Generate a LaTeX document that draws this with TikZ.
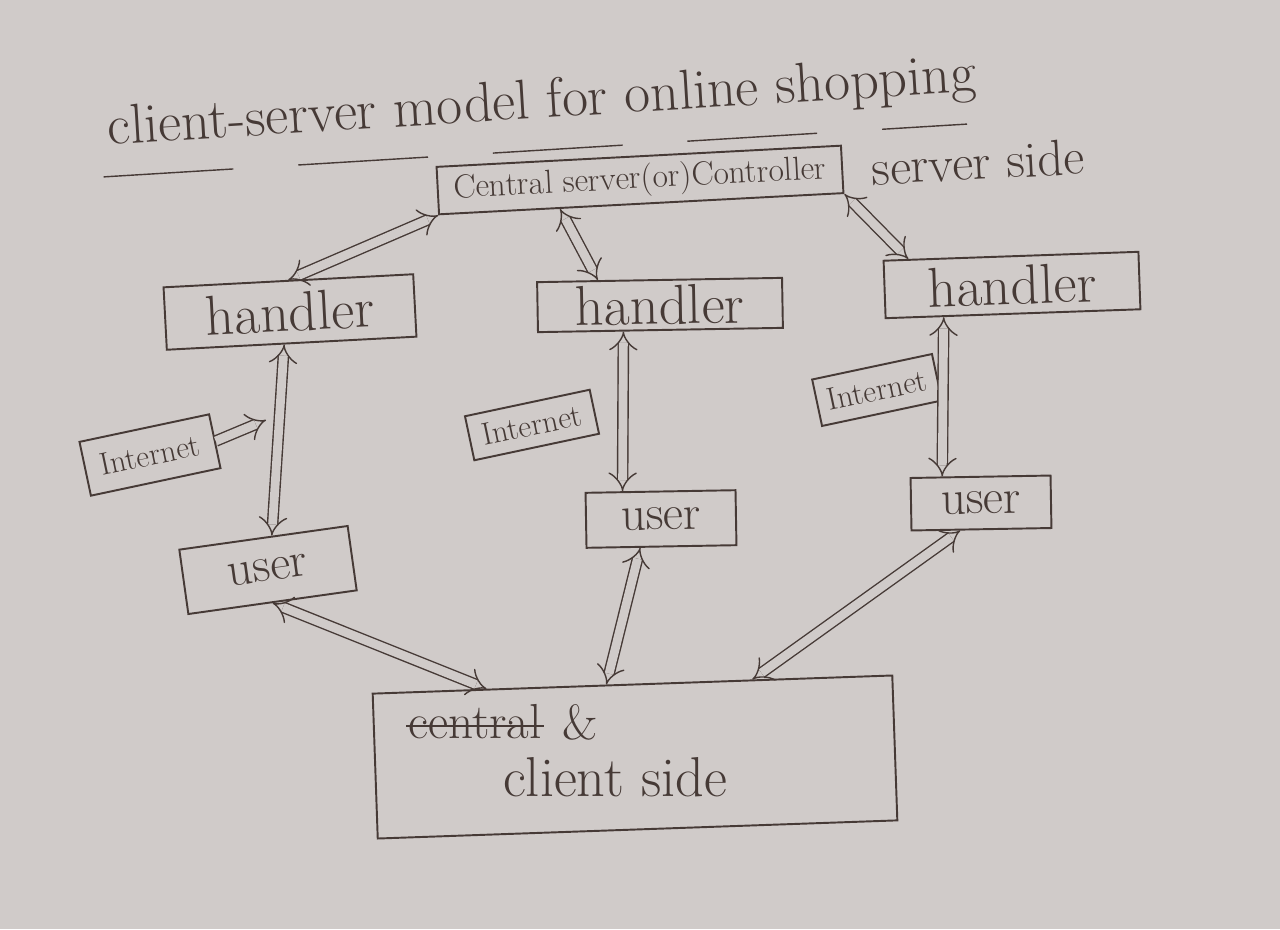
\documentclass[tikz,border=0pt]{standalone}
\usepackage{tikz}
\usetikzlibrary{arrows.meta}
\usetikzlibrary{calc}
\usetikzlibrary{positioning}
\definecolor{paper}{RGB}{208,203,201}
\definecolor{ink}{RGB}{70,58,54}

\begin{document}
\begin{tikzpicture}[x=0.02cm, y=-0.02cm,
  box/.style={draw=ink, line width=1.1pt, text=ink, inner sep=2pt},
  word/.style={text=ink, font=\fontsize{28}{32}\selectfont},
  big/.style={font=\fontsize{32}{36}\selectfont},
  small/.style={font=\fontsize{18}{22}\selectfont},
  link/.style={draw=ink, line width=0.8pt, double=paper, double distance=5pt, {Implies}-{Implies}}]
\fill[paper] (0,0) rectangle (1280,929);
\useasboundingbox (0,0) rectangle (1280,929);

%\draw[step=50, gray] (0,0) grid (1280,929);
\node[word, big, rotate=3.5, inner sep=1pt] (title) at (542,104) {client-server model for online shopping};
\draw[ink, line width=0.8pt, dash pattern=on 2.6cm off 1.3cm, rotate around={3.5:(542,104)}] (100,150) -- (965,150);

\node[box, font=\fontsize{19}{22}\selectfont, rotate=3, minimum width=8.1cm, minimum height=0.95cm] (server) at (640,180) {Central server(or)Controller};
\node[word, font=\fontsize{29}{34}\selectfont, rotate=3, inner sep=1pt] (side) at (978,162) {server side};

\node[box, word, big, rotate=3, minimum width=5cm, minimum height=1.25cm] (handler1) at (290,312) {handler};
\node[box, word, big, rotate=1, minimum width=4.9cm, minimum height=1.0cm] (handler2) at (660,305) {handler};
\node[box, word, big, rotate=2, minimum width=5.1cm, minimum height=1.15cm] (handler3) at (1012,285) {handler};

\node[box, small, rotate=12, minimum width=2.65cm, minimum height=1.1cm] (inet1) at (150,455) {Internet};
\node[box, small, rotate=12, minimum width=2.55cm, minimum height=0.9cm] (inet2) at (532,425) {Internet};
\node[box, small, rotate=12, minimum width=2.45cm, minimum height=0.95cm] (inet3) at (877,390) {Internet};

\node[box, word, rotate=8, minimum width=3.4cm, minimum height=1.3cm] (user1) at (268,570) {user};
\node[box, word, rotate=1, minimum width=3.0cm, minimum height=1.1cm] (user2) at (661,519) {user};
\node[box, word, rotate=1, minimum width=2.8cm, minimum height=1.05cm] (user3) at (981,503) {user};

\node[box, rotate=2, minimum width=10.4cm, minimum height=2.9cm] (client) at (635,757) {};
\node[word, inner sep=1pt] (central) at (475,722) {central};
\node[word, right=0.25cm of central] (amp) {\&};
\draw[ink, line width=1pt] ($(central.west)+(0,4)$) -- ($(central.east)+(0,4)$);
\node[word, big] (cside) at (615,777) {client side};

\draw[link] (server.south west) -- (handler1.north);
\draw[link] ($(server.south west)!0.3!(server.south east)$) -- ($(handler2.north west)!0.25!(handler2.north east)$);
\draw[link] (server.south east) -- ($(handler3.north west)!0.1!(handler3.north east)$);

\draw[link] ($(handler1.south west)!0.47!(handler1.south east)$) -- ($(user1.north west)!0.55!(user1.north east)$);
\draw[link] ($(handler2.south west)!0.35!(handler2.south east)$) -- ($(user2.north west)!0.25!(user2.north east)$);
\draw[link] ($(handler3.south west)!0.23!(handler3.south east)$) -- ($(user3.north west)!0.23!(user3.north east)$);

\coordinate (tap) at (266,420);
\draw[link, -{Implies}] (inet1.east) -- (tap);

\draw[link] ($(user1.south west)!0.5!(user1.south east)$) -- ($(client.north west)!0.22!(client.north east)$);
\draw[link] ($(user2.south west)!0.36!(user2.south east)$) -- ($(client.north west)!0.45!(client.north east)$);
\draw[link] ($(user3.south west)!0.35!(user3.south east)$) -- ($(client.north west)!0.73!(client.north east)$);
\end{tikzpicture}
\end{document}
